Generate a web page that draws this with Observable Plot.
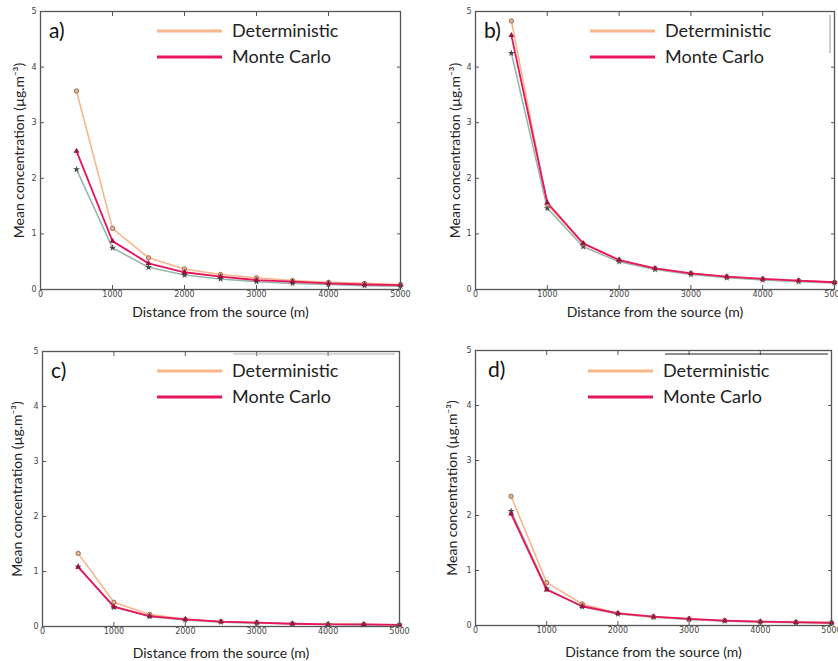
<!DOCTYPE html>
<html>
<head>
<meta charset="utf-8">
<script src="https://cdn.jsdelivr.net/npm/d3@7"></script>
<script src="https://cdn.jsdelivr.net/npm/@observablehq/plot@0.6"></script>
<style>
  html, body { margin: 0; padding: 0; background: #fff; }
  #wrap { position: relative; width: 838px; height: 661px; overflow: hidden; background: #fff; }
  .panel { position: absolute; }
  .panel svg { overflow: visible; }
</style>
</head>
<body>
<div id="wrap"></div>
<script>
// Distances (m)
const distance = [500, 1000, 1500, 2000, 2500, 3000, 3500, 4000, 4500, 5000];
const xTicks = [0, 1000, 2000, 3000, 4000, 5000];
const yTicks = [0, 1, 2, 3, 4, 5];
const seriesNames = ["Deterministic", "Monte Carlo"];
const panelLabels = ["a)", "b)", "c)", "d)"];
const xLabel = "Distance from the source (m)";
const yLabel = "Mean concentration (µg.m⁻³)";

// Panel a
const detA  = [3.57, 1.10, 0.57, 0.37, 0.27, 0.21, 0.16, 0.13, 0.11, 0.09];
const mcA   = [2.49, 0.87, 0.47, 0.31, 0.23, 0.17, 0.14, 0.11, 0.09, 0.08];
const grayA = [2.16, 0.75, 0.40, 0.26, 0.19, 0.14, 0.11, 0.09, 0.07, 0.06];
// Panel b
const detB  = [4.83, 1.53, 0.82, 0.53, 0.38, 0.29, 0.23, 0.19, 0.16, 0.13];
const mcB   = [4.57, 1.56, 0.83, 0.53, 0.38, 0.29, 0.23, 0.19, 0.16, 0.13];
const grayB = [4.25, 1.46, 0.77, 0.50, 0.36, 0.27, 0.21, 0.17, 0.14, 0.12];
// Panel c
const detC  = [1.33, 0.44, 0.22, 0.13, 0.09, 0.07, 0.05, 0.04, 0.04, 0.03];
const mcC   = [1.08, 0.36, 0.19, 0.13, 0.09, 0.07, 0.05, 0.04, 0.04, 0.03];
const grayC = [1.09, 0.35, 0.18, 0.12, 0.08, 0.06, 0.05, 0.04, 0.03, 0.03];
// Panel d
const detD  = [2.35, 0.78, 0.39, 0.22, 0.16, 0.12, 0.09, 0.07, 0.06, 0.05];
const mcD   = [2.03, 0.65, 0.35, 0.22, 0.16, 0.12, 0.09, 0.07, 0.06, 0.05];
const grayD = [2.08, 0.67, 0.34, 0.21, 0.15, 0.11, 0.08, 0.06, 0.05, 0.04];

const COL_DET = "#f7b68b", COL_MC = "#e8145e", COL_GRAY = "#97b8aa";

const panels = [
  {label: panelLabels[0], det: detA, mc: mcA, gray: grayA, left: 0, top: 0, width: 420, height: 330,
   m: {l: 40, r: 20, t: 11, b: 41}, xlab: 23, ylab: 21, legX: 117, legY: 20, letter: {dx: 9, dy: 19}, extra: null},
  {label: panelLabels[1], det: detB, mc: mcB, gray: grayB, left: 420, top: 0, width: 418, height: 330,
   m: {l: 55, r: 4, t: 11, b: 41}, xlab: 23, ylab: 20, legX: 115, legY: 20, letter: {dx: 9, dy: 19},
   extra: {type: "v", x: -4, y1: 4, y2: 42, stroke: "#9a9a9a"}},
  {label: panelLabels[2], det: detC, mc: mcC, gray: grayC, left: 0, top: 330, width: 420, height: 331,
   m: {l: 42, r: 21, t: 21, b: 35}, xlab: 27, ylab: 25, legX: 115, legY: 20, letter: {dx: 9, dy: 19},
   extra: {type: "h", y: 3, x1: 191, x2: 353, stroke: "#b0b0b0"}},
  {label: panelLabels[3], det: detD, mc: mcD, gray: grayD, left: 420, top: 330, width: 418, height: 331,
   m: {l: 55, r: 7, t: 20, b: 36}, xlab: 27, ylab: 23, legX: 113, legY: 21, letter: {dx: 13, dy: 19},
   extra: {type: "h", y: 4, x1: 190, x2: 353, stroke: "#222"}}
];

function rows(arr) { return distance.map((x, i) => ({x, y: arr[i]})); }

function legendMark(p) {
  return (index, scales, values, dims) => {
    const g = d3.create("svg:g").attr("text-anchor", "start");
    const x0 = dims.marginLeft, y0 = dims.marginTop;
    const items = [{name: seriesNames[0], c: COL_DET}, {name: seriesNames[1], c: COL_MC}];
    items.forEach((it, i) => {
      const y = y0 + p.legY + i * 26;
      g.append("line").attr("x1", x0 + p.legX).attr("x2", x0 + p.legX + 65)
        .attr("y1", y).attr("y2", y).attr("stroke", it.c).attr("stroke-width", 3);
      g.append("text").attr("x", x0 + p.legX + 75).attr("y", y).attr("dy", "0.36em")
        .attr("text-anchor", "start")
        .attr("font-family", "Lato, 'Open Sans', sans-serif").attr("font-size", 18)
        .attr("fill", "#222").text(it.name);
    });
    g.append("text").attr("x", x0 + p.letter.dx).attr("y", y0 + p.letter.dy).attr("dy", "0.36em")
      .attr("text-anchor", "start")
      .attr("font-family", "Lato, 'Open Sans', sans-serif").attr("font-size", 21)
      .attr("fill", "#111").text(p.label);
    if (p.extra) {
      const e = p.extra;
      const xr = dims.width - dims.marginRight;
      if (e.type === "v") {
        g.append("line").attr("x1", xr + e.x).attr("x2", xr + e.x)
          .attr("y1", y0 + e.y1).attr("y2", y0 + e.y2).attr("stroke", e.stroke).attr("stroke-width", 1);
      } else {
        g.append("line").attr("x1", x0 + e.x1).attr("x2", x0 + e.x2)
          .attr("y1", y0 + e.y).attr("y2", y0 + e.y).attr("stroke", e.stroke).attr("stroke-width", 1);
      }
    }
    return g.node();
  };
}

const fmt = d => String(d);
const wrap = document.getElementById("wrap");
for (const p of panels) {
  const chart = Plot.plot({
    width: p.width, height: p.height,
    marginLeft: p.m.l, marginRight: p.m.r, marginTop: p.m.t, marginBottom: p.m.b,
    style: {background: "transparent", fontFamily: "DejaVu Sans, sans-serif", overflow: "visible"},
    x: {domain: [0, 5000]},
    y: {domain: [0, 5]},
    marks: [
      Plot.line(rows(p.gray), {x: "x", y: "y", stroke: COL_GRAY, strokeWidth: 1.6}),
      Plot.line(rows(p.det), {x: "x", y: "y", stroke: COL_DET, strokeWidth: 1.6}),
      Plot.line(rows(p.mc), {x: "x", y: "y", stroke: COL_MC, strokeWidth: 1.8}),
      Plot.dot(rows(p.gray), {x: "x", y: "y", symbol: "star", r: 2.2, fill: "#4a4a4a", stroke: "none"}),
      Plot.dot(rows(p.det), {x: "x", y: "y", symbol: "circle", r: 2.2, fill: "#e9b28f", stroke: "#8a5a40", strokeWidth: 0.8}),
      Plot.dot(rows(p.mc), {x: "x", y: "y", symbol: "triangle", r: 2.2, fill: "#9e1040", stroke: "none"}),
      Plot.frame({stroke: "#555", strokeWidth: 1.3}),
      // tick labels
      Plot.axisX(xTicks, {anchor: "bottom", tickSize: 0, tickPadding: 2, tickFormat: fmt, label: null, fill: "#444", fontSize: 8}),
      Plot.axisY(yTicks, {anchor: "left", tickSize: 0, tickPadding: 4, tickFormat: fmt, label: null, fill: "#444", fontSize: 8}),
      // inward ticks on all sides
      Plot.axisX(xTicks, {anchor: "bottom", tickSize: -4, tickFormat: () => "", label: null, stroke: "#555"}),
      Plot.axisX(xTicks, {anchor: "top", tickSize: -4, tickFormat: () => "", label: null, stroke: "#555"}),
      Plot.axisY(yTicks, {anchor: "left", tickSize: -4, tickFormat: () => "", label: null, stroke: "#555"}),
      Plot.axisY(yTicks, {anchor: "right", tickSize: -4, tickFormat: () => "", label: null, stroke: "#555"}),
      Plot.text([xLabel], {frameAnchor: "bottom", dy: p.xlab, text: d => d, lineAnchor: "middle",
        fontFamily: "Lato, 'Open Sans', sans-serif", fontSize: 14, fill: "#222"}),
      Plot.text([yLabel], {frameAnchor: "left", dx: -p.ylab, rotate: -90, text: d => d, lineAnchor: "middle", textAnchor: "middle",
        fontFamily: "Lato, 'Open Sans', sans-serif", fontSize: 14, fill: "#222"}),
      legendMark(p)
    ]
  });
  const div = document.createElement("div");
  div.className = "panel";
  div.style.left = p.left + "px";
  div.style.top = p.top + "px";
  div.appendChild(chart);
  wrap.appendChild(div);
}
</script>
</body>
</html>
